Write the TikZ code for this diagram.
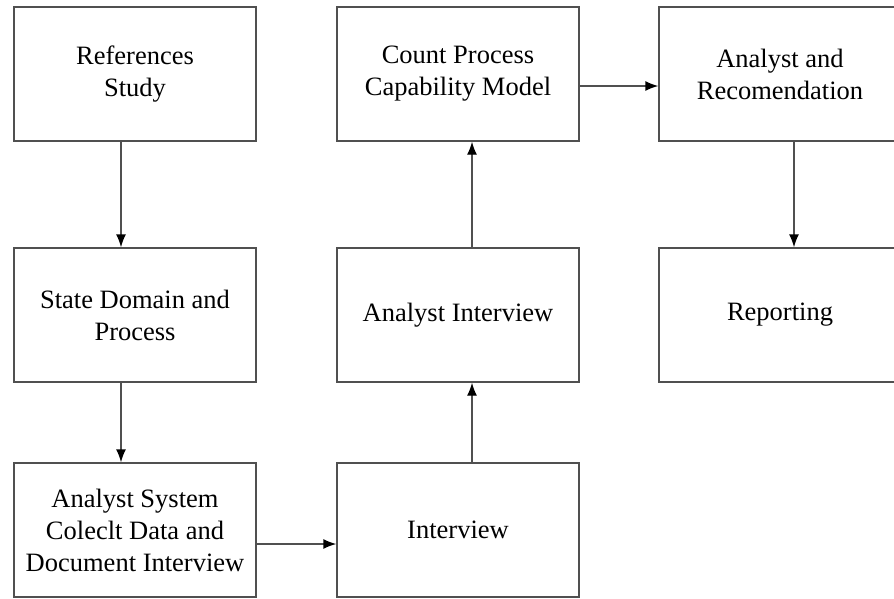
\documentclass[tikz,border=0pt]{standalone}
\usepackage{fontspec}
\setmainfont{Liberation Serif}
\usetikzlibrary{arrows.meta}
\definecolor{edge}{HTML}{505050}
\begin{document}
\begin{tikzpicture}[x=1pt,y=-1pt,
  box/.style={draw=edge,line width=1.4pt,minimum width=242pt,minimum height=134pt,
    inner sep=0pt,align=center,font=\fontsize{26.5}{32}\selectfont,text=black},
  link/.style={draw=edge,line width=1.4pt,-{Latex[length=13pt,width=10pt,color=black]}}]
\useasboundingbox (0,0) rectangle (894,598);
\clip (0,0) rectangle (894,598);
\fill[white] (0,0) rectangle (894,598);
\node[box] (ref)   at (135,74)  {References\\Study};
\node[box] (state) at (135,315) {State Domain and\\Process};
\node[box] (asys)  at (135,530) {Analyst System\\Coleclt Data and\\Document Interview};
\node[box] (count) at (458,74)  {Count Process\\Capability Model};
\node[box] (aint)  at (458,315) {Analyst Interview};
\node[box] (intv)  at (458,530) {Interview};
\node[box] (arec)  at (780,74)  {Analyst and\\Recomendation};
\node[box] (rep)   at (780,315) {Reporting};
\draw[link] ([xshift=-14pt]ref.south) -- ([xshift=-14pt]state.north);
\draw[link] ([xshift=-14pt]state.south) -- ([xshift=-14pt]asys.north);
\draw[link] ([yshift=-14pt]asys.east) -- ([yshift=-14pt]intv.west);
\draw[link] ([xshift=14pt]intv.north) -- ([xshift=14pt]aint.south);
\draw[link] ([xshift=14pt]aint.north) -- ([xshift=14pt]count.south);
\draw[link] ([yshift=-12pt]count.east) -- ([yshift=-12pt]arec.west);
\draw[link] ([xshift=14pt]arec.south) -- ([xshift=14pt]rep.north);
\end{tikzpicture}
\end{document}
